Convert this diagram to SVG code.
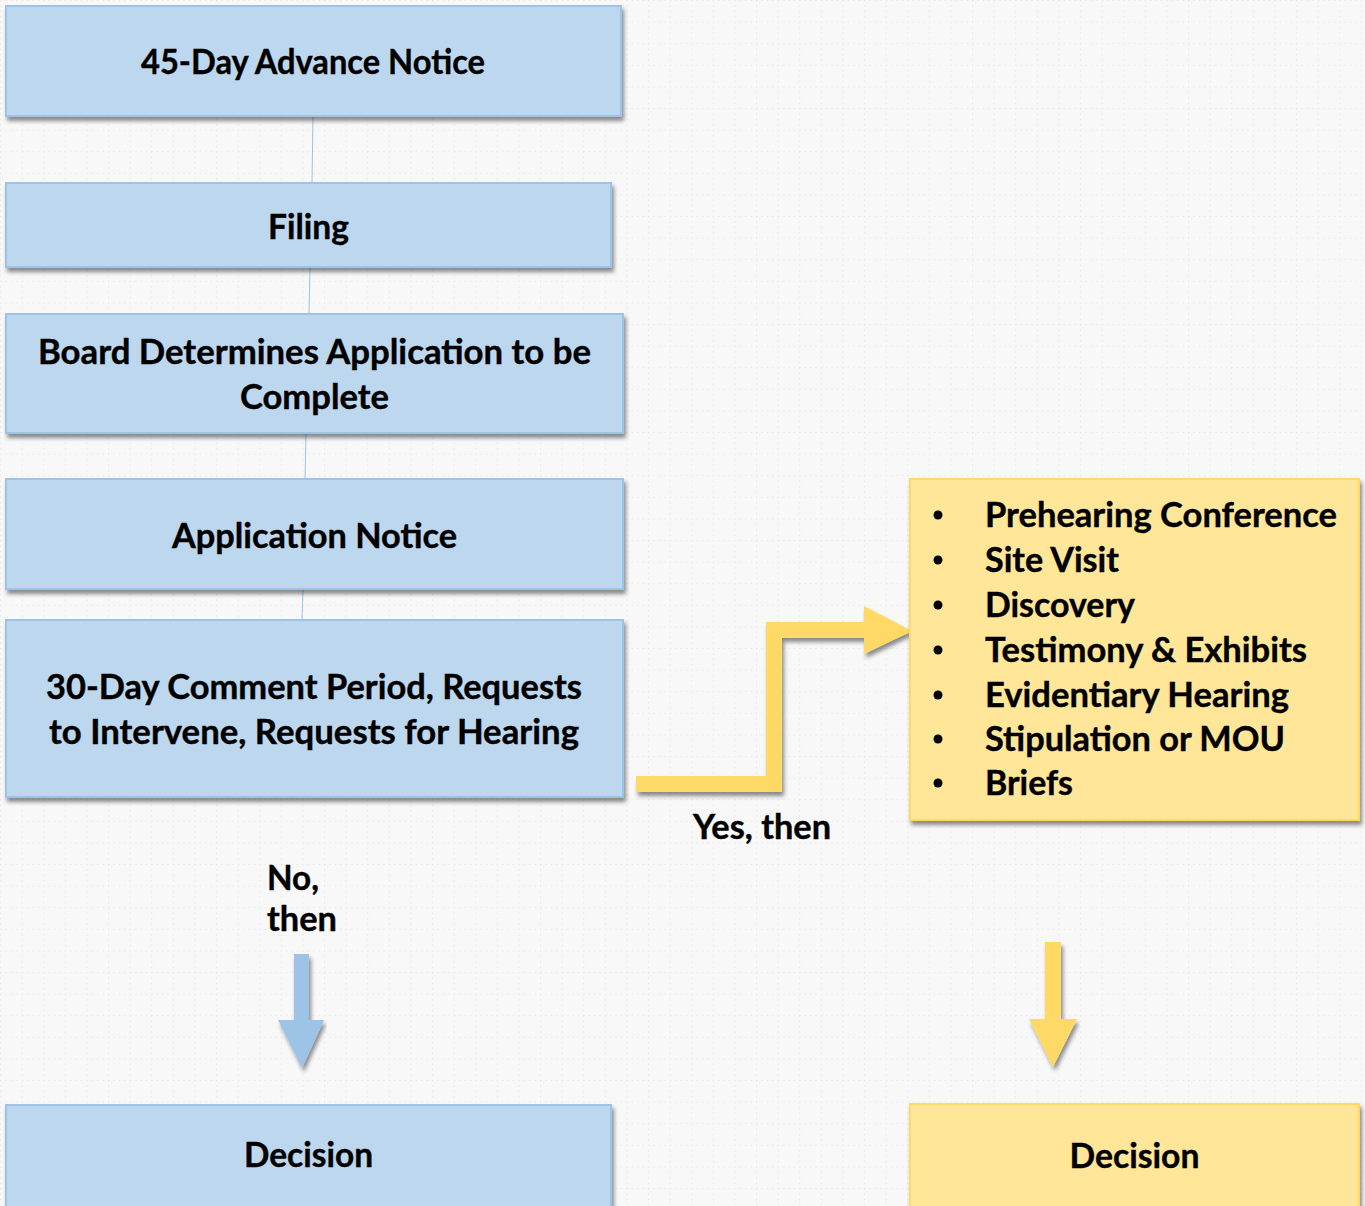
<svg xmlns="http://www.w3.org/2000/svg" width="1365" height="1206" viewBox="0 0 1365 1206">
<defs>
<pattern id="grid" width="21.6" height="21.6" patternUnits="userSpaceOnUse">
<line x1="0" y1="0.5" x2="21.6" y2="0.5" stroke="#e4e4e4" stroke-width="1.2" stroke-dasharray="1.3 4.1"/>
<line x1="0.5" y1="0" x2="0.5" y2="21.6" stroke="#e4e4e4" stroke-width="1.2" stroke-dasharray="1.3 4.1"/>
</pattern>
<filter id="sh" x="-5%" y="-10%" width="110%" height="130%">
<feDropShadow dx="2" dy="4" stdDeviation="2.2" flood-color="#000" flood-opacity="0.45"/>
</filter>
</defs>
<style>
.blue{fill:#bdd7ee;stroke:#9dc3e6;stroke-width:2}
.yel{fill:#ffe699;stroke:#ffd966;stroke-width:2}
.t{font-family:Lato,"Open Sans","Liberation Sans",sans-serif;font-weight:700;font-size:34px;fill:#000;stroke:#000;stroke-width:0.4}
.c{text-anchor:middle}
.conn{stroke:#9dc3e6;stroke-width:1;fill:none}
.ab{fill:#9dc3e6}
.ay{fill:#ffd966}
</style>
<rect width="1365" height="1206" fill="#f8f8f8"/>
<rect width="1365" height="1206" fill="url(#grid)"/>

<g id="connectors">
<line class="conn" x1="313" y1="116" x2="312" y2="183"/>
<line class="conn" x1="310" y1="267" x2="309" y2="314"/>
<line class="conn" x1="306" y1="433" x2="305" y2="479"/>
<line class="conn" x1="303" y1="589" x2="302" y2="620"/>
<polygon class="ay" filter="url(#sh)" points="636,776 766,776 766,622 864,622 864,606 912,631 864,654 864,638 782,638 782,792 636,792"/>
<polygon class="ab" filter="url(#sh)" points="294,954 309,954 309,1020 324,1020 302,1068 278,1020 294,1020"/>
<polygon class="ay" filter="url(#sh)" points="1045,942 1061,942 1061,1019 1077,1019 1053,1067 1029,1019 1045,1019"/>
<text class="t" x="693" y="839" textLength="138" lengthAdjust="spacingAndGlyphs">Yes, then</text>
<text class="t" x="267" y="890" textLength="52" lengthAdjust="spacingAndGlyphs">No,</text>
<text class="t" x="267" y="931" textLength="70" lengthAdjust="spacingAndGlyphs">then</text>
</g>

<g id="n1">
<rect class="blue" filter="url(#sh)" x="6" y="6" width="615" height="110"/>
<text class="t c" x="313" y="74" textLength="344" lengthAdjust="spacingAndGlyphs">45-Day Advance Notice</text>
</g>
<g id="n2">
<rect class="blue" filter="url(#sh)" x="6" y="183" width="605" height="84"/>
<text class="t c" x="308.5" y="239" textLength="81" lengthAdjust="spacingAndGlyphs">Filing</text>
</g>
<g id="n3">
<rect class="blue" filter="url(#sh)" x="6" y="314" width="617" height="119"/>
<text class="t c" x="314.5" y="364" textLength="553" lengthAdjust="spacingAndGlyphs">Board Determines Application to be</text>
<text class="t c" x="314.5" y="409" textLength="149" lengthAdjust="spacingAndGlyphs">Complete</text>
</g>
<g id="n4">
<rect class="blue" filter="url(#sh)" x="6" y="479" width="617" height="110"/>
<text class="t c" x="314.5" y="548" textLength="285" lengthAdjust="spacingAndGlyphs">Application Notice</text>
</g>
<g id="n5">
<rect class="blue" filter="url(#sh)" x="6" y="620" width="617" height="177"/>
<text class="t c" x="314" y="699" textLength="536" lengthAdjust="spacingAndGlyphs">30-Day Comment Period, Requests</text>
<text class="t c" x="314" y="744" textLength="530" lengthAdjust="spacingAndGlyphs">to Intervene, Requests for Hearing</text>
</g>
<g id="n6">
<rect class="yel" filter="url(#sh)" x="910" y="479" width="449" height="341"/>
<g fill="#000">
<circle cx="938" cy="515" r="4.5"/>
<circle cx="938" cy="560" r="4.5"/>
<circle cx="938" cy="605" r="4.5"/>
<circle cx="938" cy="650" r="4.5"/>
<circle cx="938" cy="695" r="4.5"/>
<circle cx="938" cy="739" r="4.5"/>
<circle cx="938" cy="783" r="4.5"/>
</g>
<text class="t" x="985" y="527" textLength="352" lengthAdjust="spacingAndGlyphs">Prehearing Conference</text>
<text class="t" x="985" y="572" textLength="134" lengthAdjust="spacingAndGlyphs">Site Visit</text>
<text class="t" x="985" y="617" textLength="150" lengthAdjust="spacingAndGlyphs">Discovery</text>
<text class="t" x="985" y="662" textLength="322" lengthAdjust="spacingAndGlyphs">Testimony &amp; Exhibits</text>
<text class="t" x="985" y="707" textLength="304" lengthAdjust="spacingAndGlyphs">Evidentiary Hearing</text>
<text class="t" x="985" y="751" textLength="300" lengthAdjust="spacingAndGlyphs">Stipulation or MOU</text>
<text class="t" x="985" y="795" textLength="88" lengthAdjust="spacingAndGlyphs">Briefs</text>
</g>
<g id="n7">
<rect class="blue" filter="url(#sh)" x="6" y="1105" width="605" height="110"/>
<text class="t c" x="308.5" y="1167" textLength="129" lengthAdjust="spacingAndGlyphs">Decision</text>
</g>
<g id="n8">
<rect class="yel" filter="url(#sh)" x="910" y="1104" width="449" height="110"/>
<text class="t c" x="1134.5" y="1168" textLength="130" lengthAdjust="spacingAndGlyphs">Decision</text>
</g>
</svg>
